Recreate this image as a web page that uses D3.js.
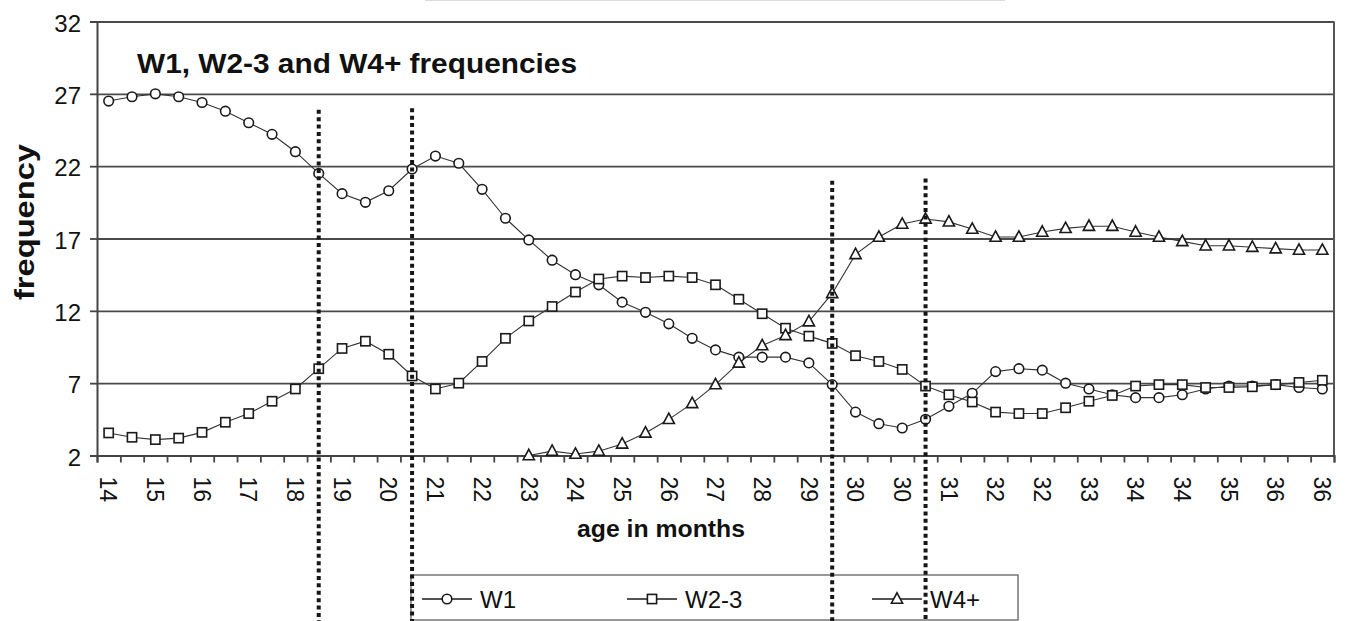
<!DOCTYPE html>
<html>
<head>
<meta charset="utf-8">
<script src="https://cdn.jsdelivr.net/npm/d3@7"></script>
<style>
  body { margin: 0; background: #fff; }
  text { font-family: "Liberation Sans", Arial, sans-serif; fill: #111; }
</style>
</head>
<body>
<div id="chart"></div>
<script>
// x tick labels (every other category is labelled)
const tickLabels = ['14','15','16','17','18','19','20','21','22','23','24','25','26','27',
  '28','29','30','30','31','32','32','33','34','34','35','36','36']

const w1 = [26.5, 26.8, 27.0, 26.8, 26.4, 25.8, 25.0, 24.2, 23.0, 21.5, 20.1, 19.5, 20.3,
  21.8, 22.7, 22.2, 20.4, 18.4, 16.9, 15.5, 14.5, 13.8, 12.6, 11.9, 11.1, 10.1, 9.3,
  8.8, 8.8, 8.8, 8.4, 6.9, 5.0, 4.2, 3.9, 4.5, 5.4, 6.3, 7.8, 8.0, 7.9, 7.0, 6.6,
  6.2, 6.0, 6.0, 6.2, 6.6, 6.8, 6.8, 6.9, 6.7, 6.6]

const w23 = [3.56, 3.26, 3.1, 3.2, 3.6, 4.3, 4.9, 5.75, 6.6, 8.0, 9.4, 9.9, 9.0,
  7.5, 6.6, 7.0, 8.5, 10.1, 11.3, 12.3, 13.3, 14.2, 14.4, 14.3, 14.4, 14.3, 13.8,
  12.8, 11.8, 10.8, 10.25, 9.75, 8.9, 8.5, 7.95, 6.8, 6.2, 5.7, 5.0, 4.9, 4.9, 5.3, 5.75,
  6.15, 6.8, 6.9, 6.9, 6.7, 6.7, 6.75, 6.9, 7.05, 7.2]

const w4 = [null, null, null, null, null, null, null, null, null, null, null, null, null,
  null, null, null, null, 1.4, 2.0, 2.3, 2.1, 2.3, 2.8, 3.56, 4.5, 5.6, 6.9,
  8.4, 9.6, 10.3, 11.25, 13.2, 15.9, 17.1, 18.0, 18.35, 18.15, 17.65, 17.1, 17.1, 17.45, 17.7, 17.85,
  17.85, 17.45, 17.1, 16.8, 16.5, 16.5, 16.4, 16.3, 16.2, 16.2]

const yTicks = [2, 7, 12, 17, 22, 27, 32]

// hand-drawn dotted markers: category index and top value
const dividerIdx = [9, 13, 31, 35]
const dividerTop = [25.9, 26.0, 21.0, 21.15]

const series = [
  { name: 'W1', values: w1, shape: 'circle' },
  { name: 'W2-3', values: w23, shape: 'square' },
  { name: 'W4+', values: w4, shape: 'triangle' }
]

const W = 1347, H = 621
const plot = { left: 97, right: 1334, top: 21.5, bottom: 455.5 }

const svg = d3.select('#chart').append('svg').attr('width', W).attr('height', H)

const categories = d3.range(w1.length)
const x = d3.scaleBand().domain(categories).range([plot.left, plot.right])
const xEdge = d3.scaleLinear().domain([0, categories.length]).range([plot.left, plot.right])
const y = d3.scaleLinear().domain([2, 32]).range([plot.bottom, plot.top])
const cx = i => x(i) + x.bandwidth() / 2

// faint box edge at very top
svg.append('line').attr('x1', 425).attr('x2', 1005).attr('y1', 0.5).attr('y2', 0.5)
  .attr('stroke', '#dcdcdc').attr('stroke-width', 1)

// gridlines
svg.append('g')
  .attr('transform', `translate(${plot.left},0)`)
  .call(d3.axisLeft(y).tickValues(yTicks).tickSize(-(plot.right - plot.left)).tickFormat(''))
  .call(g => g.select('.domain').remove())
  .call(g => g.selectAll('line').attr('stroke', '#4a4a4a').attr('stroke-width', 1.8))

// right border
svg.append('line').attr('x1', plot.right).attr('x2', plot.right)
  .attr('y1', plot.top).attr('y2', plot.bottom).attr('stroke', '#555').attr('stroke-width', 2)

// y axis
const yAxis = svg.append('g')
  .attr('transform', `translate(${plot.left},0)`)
  .call(d3.axisLeft(y).tickValues(yTicks).tickSize(7).tickPadding(9))
yAxis.select('.domain').attr('stroke', '#444').attr('stroke-width', 2)
yAxis.selectAll('line').attr('stroke', '#444').attr('stroke-width', 1.8)
yAxis.selectAll('text').attr('font-size', 24).attr('fill', '#111')
  .style('font-family', '"Liberation Sans", Arial, sans-serif').attr('dy', '0.4em')

// x axis: ticks at category edges
const xAxis = svg.append('g')
  .attr('transform', `translate(0,${plot.bottom})`)
  .call(d3.axisBottom(xEdge).tickValues(d3.range(categories.length + 1)).tickSize(7).tickFormat(''))
xAxis.select('.domain').attr('stroke', '#444').attr('stroke-width', 2)
xAxis.selectAll('line').attr('stroke', '#444').attr('stroke-width', 1.8)

// x labels, rotated
svg.append('g').selectAll('text')
  .data(tickLabels)
  .join('text')
  .attr('transform', (d, k) => `translate(${cx(k * 2)},${plot.bottom + 21}) rotate(90)`)
  .attr('dy', '0.36em')
  .attr('font-size', 23)
  .text(d => d)

// series lines
svg.append('clipPath').attr('id', 'clip')
  .append('rect').attr('x', plot.left).attr('y', plot.top)
  .attr('width', plot.right - plot.left).attr('height', plot.bottom - plot.top + 1)

const line = d3.line()
  .defined(d => d != null)
  .x((d, i) => cx(i))
  .y(d => y(d))

const lineG = svg.append('g').attr('clip-path', 'url(#clip)')
series.forEach(s => {
  lineG.append('path')
    .attr('d', line(s.values))
    .attr('fill', 'none')
    .attr('stroke', '#333')
    .attr('stroke-width', 1.1)
})

function drawMarker(g, shape) {
  if (shape === 'circle') {
    g.append('circle').attr('r', 4.8)
  } else if (shape === 'square') {
    g.append('rect').attr('x', -4.6).attr('y', -4.6).attr('width', 9.2).attr('height', 9.2)
  } else {
    g.append('path').attr('d', 'M0,-6.2L5.6,4.2L-5.6,4.2Z')
  }
  g.selectAll('*').attr('fill', '#fff').attr('stroke', '#1a1a1a').attr('stroke-width', 1.6)
}

series.forEach(s => {
  s.values.forEach((v, i) => {
    if (v == null || v < 2) return
    const g = svg.append('g').attr('transform', `translate(${cx(i)},${y(v)})`)
    drawMarker(g, s.shape)
  })
})

// title inside plot
svg.append('text')
  .attr('x', 137).attr('y', 73)
  .attr('font-size', 27.5).attr('font-weight', 'bold')
  .attr('textLength', 440).attr('lengthAdjust', 'spacingAndGlyphs')
  .text('W1, W2-3 and W4+ frequencies')

// axis titles
svg.append('text')
  .attr('transform', 'translate(34,222) rotate(-90)')
  .attr('text-anchor', 'middle')
  .attr('font-size', 28).attr('font-weight', 'bold')
  .attr('textLength', 156).attr('lengthAdjust', 'spacingAndGlyphs')
  .text('frequency')

svg.append('text')
  .attr('x', 577).attr('y', 537)
  .attr('font-size', 23).attr('font-weight', 'bold')
  .attr('textLength', 168).attr('lengthAdjust', 'spacingAndGlyphs')
  .text('age in months')

// legend
const legend = svg.append('g')
legend.append('rect')
  .attr('x', 411).attr('y', 575).attr('width', 607).attr('height', 45)
  .attr('fill', '#fff').attr('stroke', '#777').attr('stroke-width', 1.5)
const legendX = [447, 652, 897]
series.forEach((s, k) => {
  const item = legend.append('g').attr('transform', `translate(${legendX[k]},599)`)
  item.append('line').attr('x1', -25).attr('x2', 25).attr('stroke', '#333').attr('stroke-width', 1.1)
  drawMarker(item, s.shape)
  item.append('text').attr('x', 33).attr('y', 8.5).attr('font-size', 24).text(s.name)
})

// dotted dividers drawn over everything
svg.append('g').selectAll('line')
  .data(dividerIdx)
  .join('line')
  .attr('x1', d => cx(d)).attr('x2', d => cx(d))
  .attr('y1', (d, k) => y(dividerTop[k])).attr('y2', H)
  .attr('stroke', '#161616')
  .attr('stroke-width', 4)
  .attr('stroke-dasharray', '4,3.4')
</script>
</body>
</html>
